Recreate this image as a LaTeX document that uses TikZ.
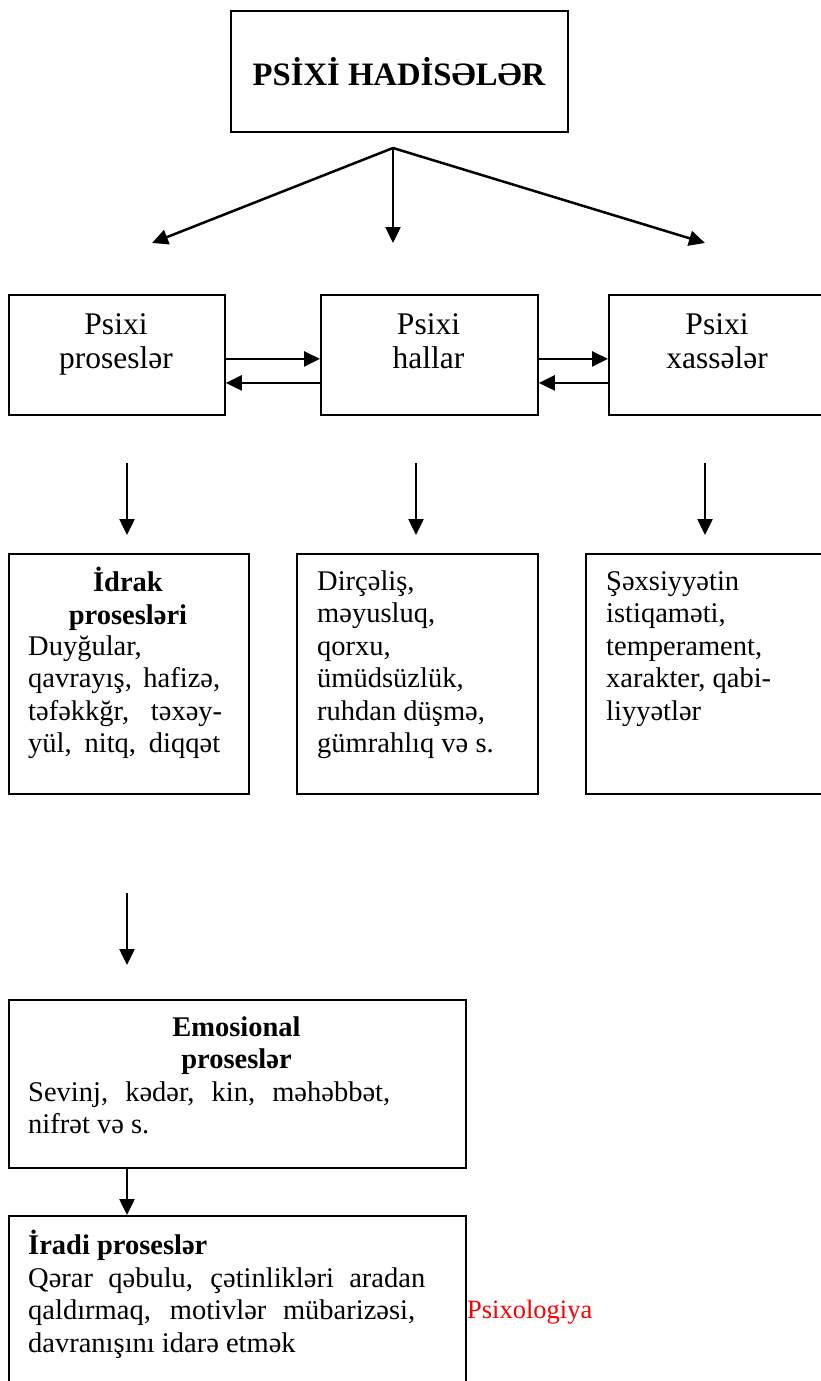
\documentclass[tikz,border=0pt]{standalone}
\usepackage{fontspec}
\setmainfont{Liberation Serif}
\usetikzlibrary{arrows.meta}
\newcommand{\fsz}{\fontsize{28.5}{32.5}\selectfont}
\newcommand{\psz}{\fontsize{31.5}{34}\selectfont}
\newcommand{\tsz}{\fontsize{32.7}{36}\selectfont\bfseries}
\begin{document}
\begin{tikzpicture}[x=1pt,y=-1pt,
  box/.style={draw, line width=1.8pt, inner sep=0pt, anchor=north west},
  txt/.style={inner sep=0pt, anchor=north west, align=left, font=\fsz},
  ctxt/.style={inner sep=0pt, anchor=north, align=center, font=\fsz},
  arr/.style={line width=2.5pt, -{Triangle[length=16pt,width=15pt]}},
  note/.style={inner sep=0pt, anchor=base west, text=red, font=\fontsize{26.5}{30}\selectfont}]
\useasboundingbox (0,0) rectangle (820,1381);

% title
\node[box, minimum width=337pt, minimum height=121pt] (title) at (230,10) {};
\node[inner sep=0pt, anchor=base, font=\tsz] (titletext) at (399,85) {PSİXİ HADİSƏLƏR};
\coordinate (fork) at (393,148);
\coordinate (t1) at (152,243);
\coordinate (t2) at (393,243);
\coordinate (t3) at (705,243);
\draw[arr] (fork) -- (t1);
\draw[arr] (fork) -- (t2);
\draw[arr] (fork) -- (t3);

% row 2
\node[box, minimum width=216pt, minimum height=120pt] (p1) at (8,294) {};
\node[box, minimum width=217pt, minimum height=120pt] (p2) at (320,294) {};
\node[box, minimum width=218pt, minimum height=120pt] (p3) at (608,294) {};
\node[ctxt, font=\psz] (p1t) at (116,310.2) {\strut Psixi\\proseslər};
\node[ctxt, font=\psz] (p2t) at (428.5,310.2) {\strut Psixi\\hallar};
\node[ctxt, font=\psz] (p3t) at (717,310.2) {\strut Psixi\\xassələr};
\draw[arr] ([yshift=-4pt]p1.east) -- ([yshift=-4pt]p2.west);
\draw[arr] ([yshift=-28pt]p2.west) -- ([yshift=-28pt]p1.east);
\draw[arr] ([yshift=-4pt]p2.east) -- ([yshift=-4pt]p3.west);
\draw[arr] ([yshift=-28pt]p3.west) -- ([yshift=-28pt]p2.east);

% down arrows
\coordinate (d1s) at (127,463); \coordinate (d1e) at (127,535);
\coordinate (d2s) at (416,463); \coordinate (d2e) at (416,535);
\coordinate (d3s) at (705,463); \coordinate (d3e) at (705,535);
\draw[arr] (d1s) -- (d1e);
\draw[arr] (d2s) -- (d2e);
\draw[arr] (d3s) -- (d3e);

% row 3
\node[box, minimum width=240pt, minimum height=240pt] (a) at (8,553) {};
\node[box, minimum width=241pt, minimum height=240pt] (b) at (296,553) {};
\node[box, minimum width=245pt, minimum height=240pt] (c) at (585,553) {};
\node[ctxt, font=\fsz\bfseries] (ahead) at (128,567.25) {\strut İdrak\\prosesləri};
\node[txt] (abody) at (28,632.25) {\strut Duyğular,\\\makebox[192pt][s]{qavrayış, hafizə,}\\\makebox[194pt][s]{təfəkkğr, təxəy-}\\\makebox[192pt][s]{yül, nitq, diqqət}};
\node[txt] (bbody) at (317,567.25) {\strut Dirçəliş,\\məyusluq,\\qorxu,\\ümüdsüzlük,\\ruhdan düşmə,\\gümrahlıq və s.};
\node[txt] (cbody) at (606,567.25) {\strut Şəxsiyyətin\\istiqaməti,\\temperament,\\xarakter, qabi-\\liyyətlər};

% emotional
\coordinate (d4s) at (127,893); \coordinate (d4e) at (127,965);
\draw[arr] (d4s) -- (d4e);
\node[box, minimum width=457pt, minimum height=168pt] (e) at (8,999) {};
\node[ctxt, font=\fsz\bfseries] (ehead) at (236.5,1013.25) {\strut Emosional\\proseslər};
\node[txt] (ebody) at (28,1078.25) {\strut\makebox[362pt][s]{Sevinj, kədər, kin, məhəbbət,}\\nifrət və s.};

% volitional
\node[box, minimum width=457pt, minimum height=200pt] (v) at (8,1215) {};
\draw[arr] (e.south -| d4e) -- (v.north -| d4e);
\node[txt] (vbody) at (28,1230.25) {\strut\textbf{İradi proseslər}\\\makebox[397pt][s]{Qərar qəbulu, çətinlikləri aradan}\\\makebox[387pt][s]{qaldırmaq, motivlər mübarizəsi,}\\davranışını idarə etmək};

\node[note] (psix) at (467,1318) {Psixologiya};
\end{tikzpicture}
\end{document}
